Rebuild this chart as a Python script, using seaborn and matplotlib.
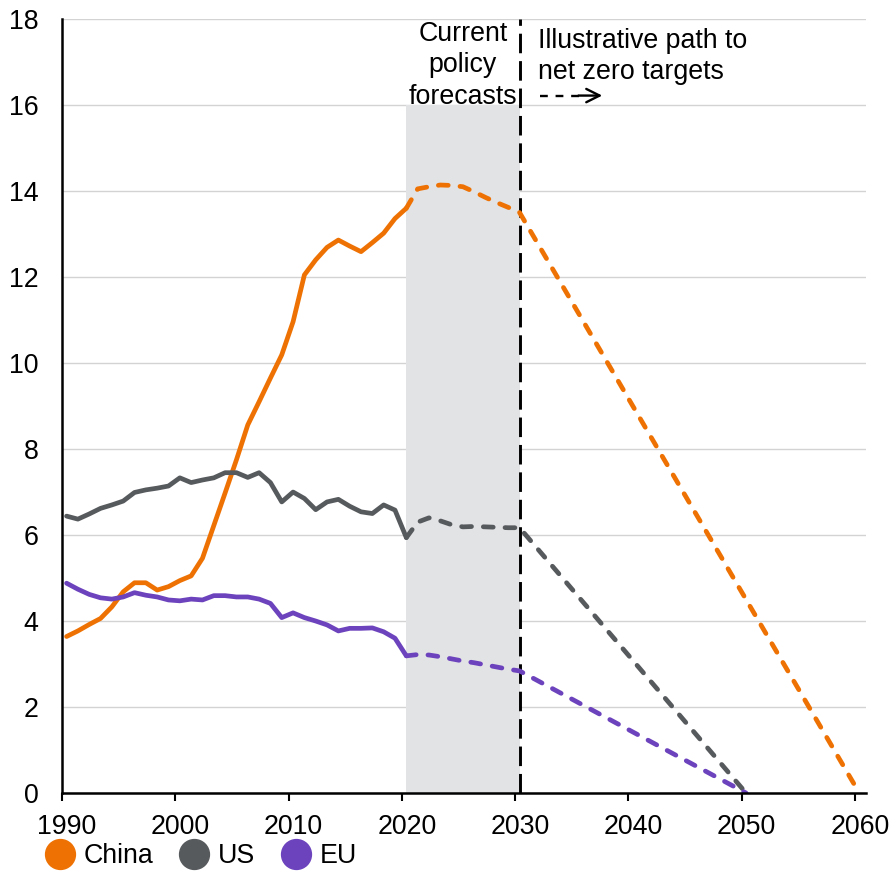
import pandas as pd
import matplotlib.pyplot as plt
import seaborn as sns
from matplotlib.lines import Line2D
from matplotlib.transforms import ScaledTranslation

# --- Data ---
regions = ["China", "US", "EU"]
colors = ["#EE7203", "#575A5D", "#6C43BD"]

hist_years = list(range(1990, 2021))
china_hist = [3.64, 3.77, 3.92, 4.06, 4.33, 4.68, 4.89, 4.89, 4.72, 4.80,
              4.94, 5.05, 5.46, 6.22, 6.98, 7.75, 8.56, 9.10, 9.65, 10.19,
              10.96, 12.05, 12.40, 12.69, 12.86, 12.72, 12.59, 12.80, 13.02, 13.36,
              13.60]
us_hist = [6.44, 6.37, 6.49, 6.62, 6.70, 6.79, 6.99, 7.05, 7.09, 7.14,
           7.33, 7.22, 7.28, 7.33, 7.45, 7.45, 7.34, 7.45, 7.22, 6.77,
           7.00, 6.85, 6.59, 6.77, 6.83, 6.67, 6.54, 6.50, 6.70, 6.58,
           5.94]
eu_hist = [4.88, 4.74, 4.62, 4.54, 4.51, 4.56, 4.66, 4.60, 4.56, 4.49,
           4.47, 4.51, 4.49, 4.59, 4.59, 4.56, 4.56, 4.51, 4.41, 4.08,
           4.19, 4.08, 4.00, 3.91, 3.77, 3.83, 3.83, 3.84, 3.75, 3.60,
           3.19]

# current policy forecasts (start at the last observed year)
fcst_years = list(range(2020, 2031))
china_fcst = [13.60, 14.05, 14.10, 14.14, 14.13, 14.10, 13.98, 13.85, 13.73, 13.62, 13.50]
us_fcst = [5.94, 6.30, 6.40, 6.33, 6.24, 6.19, 6.20, 6.19, 6.18, 6.17, 6.17]
eu_fcst = [3.19, 3.22, 3.21, 3.17, 3.12, 3.07, 3.03, 2.98, 2.93, 2.88, 2.84]

# net zero target years (illustrative path goes straight down to 0)
net_zero_years = [2060, 2050, 2050]

year_offset = 0.4  # points are drawn mid-year on the axis

# --- Long table for seaborn ---
rows = []
for reg, h, f, nz in zip(regions, [china_hist, us_hist, eu_hist],
                         [china_fcst, us_fcst, eu_fcst], net_zero_years):
    for y, v in zip(hist_years, h):
        rows.append((y, v, reg, "hist"))
    for y, v in zip(fcst_years + [nz], f + [0.0]):
        rows.append((y, v, reg, "proj"))
df = pd.DataFrame(rows, columns=["year", "value", "region", "phase"])
df["x"] = df["year"] + year_offset

# --- Style ---
sns.set_theme(style="white")
plt.rcParams["font.family"] = ["Liberation Sans", "DejaVu Sans"]
plt.rcParams["text.color"] = "black"
plt.rcParams["xtick.color"] = "black"
plt.rcParams["ytick.color"] = "black"
plt.rcParams["lines.dash_capstyle"] = "round"
plt.rcParams["lines.solid_capstyle"] = "round"
plt.rcParams["lines.solid_joinstyle"] = "round"
FS = 19.3

fig = plt.figure(figsize=(8.94, 8.73), dpi=100)
ax = fig.add_axes([0.0694, 0.0916, 0.8994, 0.8866])

# grid
for yv in range(0, 19, 2):
    ax.axhline(yv, color="#D3D3D3", lw=1.0, zorder=0)

# forecast window shading
ax.fill_between([2020 + year_offset, 2030 + year_offset], 0, 16,
                color="#E2E3E5", lw=0, zorder=1)
ax.axvline(2030 + year_offset, color="black", lw=2.1, ls=(0, (6.7, 2.7)),
           dash_capstyle="butt", zorder=2)

sns.lineplot(data=df, x="x", y="value", hue="region", style="phase",
             palette=dict(zip(regions, colors)),
             dashes={"hist": "", "proj": (2.1, 2.5)},
             linewidth=3.4, estimator=None, legend=False, ax=ax, zorder=3)

# --- Annotations ---
ax.text(2025.4, 17.95, "Current\npolicy\nforecasts", ha="center", va="top",
        fontsize=FS, color="black", linespacing=1.26)
ax.text(2032.0, 17.8, "Illustrative path to\nnet zero targets", ha="left", va="top",
        fontsize=FS, color="black", linespacing=1.26)
ax.plot([2032.2, 2036.0], [16.22, 16.22], color="black", lw=1.7,
        ls=(0, (3.3, 3.3)), dash_capstyle="butt")
ax.annotate("", xy=(2037.7, 16.22), xytext=(2035.6, 16.22),
            arrowprops=dict(arrowstyle="->", lw=1.7, color="black",
                            mutation_scale=24, shrinkA=0, shrinkB=0))

# --- Axes ---
ax.set_xlim(1990, 2061)
ax.set_ylim(0, 18)
ax.set_xticks(range(1990, 2061, 10))
ax.set_yticks(range(0, 19, 2))
ax.set_xlabel("")
ax.set_ylabel("")
ax.tick_params(axis="y", length=0, pad=17, labelsize=FS)
ax.tick_params(axis="x", length=6, width=1.5, direction="out", pad=9,
               labelsize=FS, bottom=True)
shift = ScaledTranslation(5 / 100, 0, fig.dpi_scale_trans)
for lab in ax.get_xticklabels():
    lab.set_transform(lab.get_transform() + shift)
for side in ["top", "right"]:
    ax.spines[side].set_visible(False)
for side in ["left", "bottom"]:
    ax.spines[side].set_color("black")
    ax.spines[side].set_linewidth(1.8)
    ax.spines[side].set_zorder(5)

# --- Legend ---
handles = [Line2D([], [], marker="o", ls="", color=c, markersize=21.5, label=r)
           for r, c in zip(regions, colors)]
fig.legend(handles=handles, loc="center left", bbox_to_anchor=(0.049, 0.0195),
           ncol=3, frameon=False, fontsize=FS, handletextpad=0.3,
           columnspacing=0.9, handlelength=1.2, borderaxespad=0, borderpad=0)

fig.savefig("out.png", dpi=100)
plt.close(fig)
